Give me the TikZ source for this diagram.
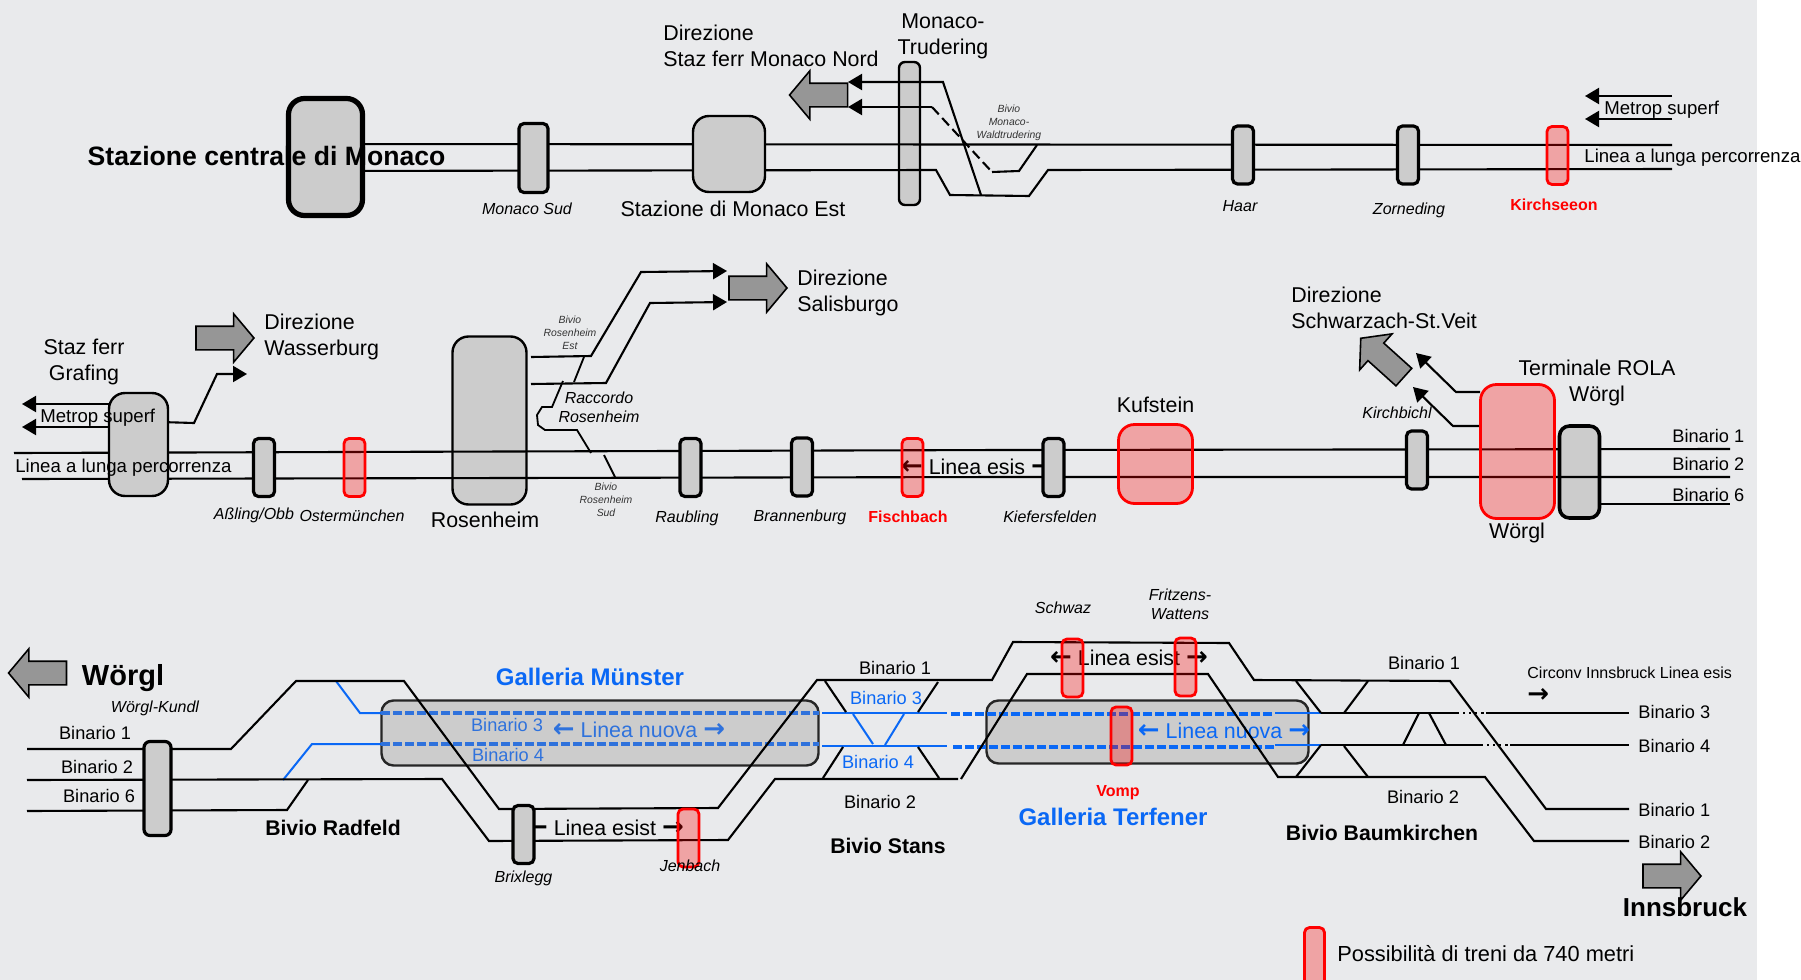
\documentclass[tikz,border=0pt]{standalone}
\usepackage{fontspec}
\setmainfont{Liberation Sans}
\newfontfamily\arrowfont{DejaVu Sans Bold}
\usepackage{xcolor}
\usepackage{tikz}
\usetikzlibrary{shapes,arrows.meta,positioning,calc}

\definecolor{pagegray}{HTML}{E9EAEC}
\definecolor{boxgray}{HTML}{CCCCCC}
\definecolor{arrowgray}{HTML}{969696}
\definecolor{railblue}{HTML}{0A68F5}
\definecolor{tunnelblue}{HTML}{2F72DC}

\newcommand{\larr}{{\arrowfont\fontsize{13}{13}\selectfont ←}}
\newcommand{\rarr}{{\arrowfont\fontsize{13}{13}\selectfont →}}

\tikzset{
  track/.style={line width=1.05pt},
  blueline/.style={line width=1.0pt, railblue},
  bluedash/.style={line width=1.7pt, tunnelblue, dash pattern=on 4.6pt off 1.4pt},
  flow/.style={line width=1.05pt, -{Triangle[length=7pt,width=8pt]}},
  stn/.style={draw=black, fill=boxgray, line width=1.2pt, rounded corners=8pt, inner sep=0pt},
  stopbox/.style={draw=black, fill=boxgray, line width=1.6pt, rounded corners=2.5pt, inner sep=0pt, minimum width=10.5pt, minimum height=29pt},
  redbox/.style={draw=red, fill=red, fill opacity=0.3, line width=1.4pt, rounded corners=8pt, inner sep=0pt},
  redstop/.style={redbox, rounded corners=2.5pt, minimum width=10.5pt, minimum height=29pt},
  tunnel/.style={draw=black!85, fill=boxgray, line width=1.2pt, rounded corners=6pt, inner sep=0pt},
  bigarrow/.style={single arrow, draw=black, fill=arrowgray, line width=0.8pt, inner xsep=0pt, inner ysep=5.5pt, minimum width=23.5pt, minimum height=29pt, single arrow head extend=6.2pt, single arrow tip angle=100, single arrow head indent=0pt},
  lbl/.style={font=\fontsize{10.7}{13}\selectfont, inner sep=0pt},
  binlbl/.style={font=\fontsize{9.1}{11}\selectfont, inner sep=0pt},
  metrolbl/.style={font=\fontsize{9.3}{11}\selectfont, inner sep=0pt},
  smalllbl/.style={font=\itshape\fontsize{8}{9.5}\selectfont, inner sep=0pt, align=center},
  bivio/.style={font=\itshape\fontsize{5.2}{6.5}\selectfont, inner sep=0pt, align=center, black!80},
  boldlbl/.style={font=\bfseries\fontsize{10.6}{13}\selectfont, inner sep=0pt},
  redlbl/.style={font=\bfseries\fontsize{8}{10}\selectfont, red, inner sep=0pt},
}

\begin{document}
\begin{tikzpicture}[x=0.5pt, y=-0.5pt]
    \useasboundingbox (0,0) rectangle (1801,980);
    \fill[pagegray] (0,0) rectangle (1757,980);

    % Monaco line
    \node[stn, minimum width=10.5pt, minimum height=71.5pt, rounded corners=3pt] (trudering) at (909.5,133.5) {};
    \draw[track] (300,144) -- (1672,145);
    \draw[track] (300,171) -- (936,170) -- (950,195) -- (1029,196) -- (1048,170) -- (1672,169);
    \draw[track] (981,195) -- (943,82) -- (860,82);
    \draw[flow] (943,82) -- (848,82);
    \draw[flow] (932,107) -- (848,107);
    \draw[track, dash pattern=on 5pt off 2.5pt] (932,107) -- (992,172);
    \draw[track] (992,172) -- (1019,171) -- (1037,145);
    \draw[flow] (1672,96) -- (1585,96);
    \draw[flow] (1672,119) -- (1585,119);

    \node[stn, line width=2.6pt, minimum width=37pt, minimum height=58.5pt] (hbf) at (325.5,157) {};
    \node[stopbox, minimum width=14.5pt, minimum height=34.5pt] (sud) at (533.5,158) {};
    \node[stn, minimum width=36pt, minimum height=38pt] (est) at (729,154) {};
    \node[stopbox] (haar) at (1243,155) {};
    \node[stopbox] (zorneding) at (1408,155) {};
    \node[redstop] (kirchseeon) at (1557.5,155.5) {};
    \node[bigarrow, rotate=180] (nordarrow) at (823.5,95) {};

    \node[font=\bfseries\fontsize{13.3}{15}\selectfont, inner sep=0pt] (hbflbl) at (266.5,156) {Stazione centrale di Monaco};
    \node[smalllbl] (sudlbl) at (527,209) {Monaco Sud};
    \node[lbl] (estlbl) at (733,209) {Stazione di Monaco Est};
    \node[lbl, align=left, anchor=west] (nordlbl) at (663,46) {Direzione\\Staz ferr Monaco Nord};
    \node[lbl, align=center] (truderinglbl) at (943,36) {Monaco-\\Trudering};
    \node[bivio] (waldlbl) at (1009,123) {Bivio\\Monaco-\\Waldtrudering};
    \node[smalllbl] (haarlbl) at (1240,206) {Haar};
    \node[smalllbl] (zornedinglbl) at (1409,210) {Zorneding};
    \node[redlbl] (kirchseeonlbl) at (1554,205) {Kirchseeon};
    \node[metrolbl, anchor=west] (metrop1) at (1604,110) {Metrop superf};
    \node[metrolbl, anchor=west] (lunga1) at (1584,158) {Linea a lunga percorrenza};

    % Rosenheim - Kufstein - Woergl line
    \node[stn, minimum width=37pt, minimum height=84pt] (rosenheim) at (489.5,420.5) {};
    \draw[track] (14,453) -- (1000,450) -- (1730,449);
    \node[stn, line width=1.8pt, rounded corners=5pt, minimum width=20pt, minimum height=46pt] (woerglgray) at (1579.5,472) {};
    \draw[track] (22,479) -- (1000,477) -- (1730,477);
    \draw[track] (woerglgray.east |- 0,504) -- (1730,504);
    \node[lbl] (esis) at (977,467) {\larr\ Linea esis \rarr};

    \draw[flow] (138,404) -- (22,404);
    \draw[flow] (138,427) -- (22,427);
    \draw[flow] (160,422) -- (194,423) -- (217,374) -- (247,374);
    \draw[flow] (531,357) -- (591,356) -- (641,272) -- (727,271);
    \draw[flow] (531,384) -- (606,383) -- (650,303) -- (727,302);
    \draw[track, line width=0.9pt] (584,357) -- (574,382);
    \draw[track, line width=0.9pt] (563,381) -- (552,407) -- (542,407) -- (537,415) -- (538,425) -- (545,430) -- (577,430) -- (591,453);
    \draw[track, line width=0.9pt] (604,455) -- (615,477);
    \draw[flow] (1480,392) -- (1456,392) -- (1416,353);
    \draw[flow] (1480,426) -- (1453,426) -- (1413,387);

    \node[stn, minimum width=29.5pt, minimum height=51.5pt] (grafing) at (138.5,444.5) {};
    \node[stopbox] (assling) at (264,467.5) {};
    \node[redstop] (ostermuenchen) at (354.5,467.5) {};
    \node[stopbox] (raubling) at (690.5,467.5) {};
    \node[stopbox] (brannenburg) at (802,467) {};
    \node[redstop] (fischbach) at (912.5,467.5) {};
    \node[stopbox] (kiefersfelden) at (1053.5,467.5) {};
    \node[redbox, minimum width=37pt, minimum height=39.5pt] (kufstein) at (1155.5,464) {};
    \node[stopbox] (kirchbichl) at (1417,460) {};
    \node[redbox, minimum width=37pt, minimum height=67pt] (woerglred) at (1517.5,451.5) {};
    \node[bigarrow] (wasserarrow) at (220,338) {};
    \node[bigarrow] (salisarrow) at (753,288) {};
    \node[bigarrow, rotate=138] (schwarzarrow) at (1386,361) {};

    \node[lbl, align=center] (graflbl) at (84,362) {Staz ferr\\Grafing};
    \node[metrolbl, anchor=west] (metrop2) at (40,418) {Metrop superf};
    \node[metrolbl, anchor=west] (lunga2) at (15,468) {Linea a lunga percorrenza};
    \node[lbl, align=left, anchor=west] (wasserlbl) at (264,337) {Direzione\\Wasserburg};
    \node[lbl, align=left, anchor=west] (salislbl) at (797,292.5) {Direzione\\Salisburgo};
    \node[lbl, align=left, anchor=west] (schwarzlbl) at (1291,308) {Direzione\\Schwarzach-St.Veit};
    \node[smalllbl] (asslinglbl) at (254,515) {Aßling/Obb};
    \node[smalllbl] (osterlbl) at (352,516) {Ostermünchen};
    \node[lbl] (rosenlbl) at (485,520) {Rosenheim};
    \node[bivio] (estbivio) at (570,333) {Bivio\\Rosenheim\\Est};
    \node[bivio] (sudbivio) at (606,500) {Bivio\\Rosenheim\\Sud};
    \node[smalllbl] (raccordo) at (599,407.5) {Raccordo\\Rosenheim};
    \node[smalllbl] (raublinglbl) at (687,518) {Raubling};
    \node[smalllbl] (brannenlbl) at (800,517) {Brannenburg};
    \node[redlbl] (fischlbl) at (908,517) {Fischbach};
    \node[smalllbl] (kieferlbl) at (1050,517) {Kiefersfelden};
    \node[lbl] (kufsteinlbl) at (1155.5,405) {Kufstein};
    \node[smalllbl] (kirchlbl) at (1397,413) {Kirchbichl};
    \node[lbl] (woergllbl) at (1517,533) {Wörgl};
    \node[lbl, align=center] (rolalbl) at (1597,382.5) {Terminale ROLA\\Wörgl};
    \node[binlbl, anchor=west] (bin1a) at (1672,436) {Binario 1};
    \node[binlbl, anchor=west] (bin2a) at (1672,464) {Binario 2};
    \node[binlbl, anchor=west] (bin6a) at (1672,495) {Binario 6};

    % Tunnels
    \node[tunnel, minimum width=218.5pt, minimum height=32.5pt] (muenster) at (600,733) {};
    \node[tunnel, minimum width=161pt, minimum height=31.5pt] (terfener) at (1147.5,732) {};
    \node[binlbl, tunnelblue] (bin3b) at (507,725) {Binario 3};
    \node[binlbl, tunnelblue] (bin4b) at (508,755) {Binario 4};
    \node[lbl, tunnelblue] (nuova1) at (639,730) {\larr\ Linea nuova \rarr};
    \node[lbl, railblue] (nuova2) at (1224,731) {\larr\ Linea nuova \rarr};
    \node[lbl] (esist1) at (605,828) {\larr\ Linea esist \rarr};
    \node[lbl] (esist2) at (1129,658) {\larr\ Linea esist \rarr};

    % Brenner approach, blue
    \draw[blueline] (336,681) -- (360,713) -- (381,713);
    \draw[blueline] (283,780) -- (312,744) -- (381,744);
    \draw[bluedash] (381,713) -- (819,713);
    \draw[bluedash] (381,744) -- (819,744);
    \draw[blueline] (822,713) -- (947,713);
    \draw[blueline] (822,746) -- (947,746);
    \draw[bluedash, railblue] (951,714) -- (1273,714);
    \draw[bluedash, railblue] (953,747) -- (1275,747);
    \draw[blueline] (1275,713) -- (1321,713);
    \draw[blueline] (1275,745) -- (1321,745);
    \draw[blueline] (853,714) -- (873,744);
    \draw[blueline] (904,714) -- (885,745);

    % Brenner approach, black
    \draw[track] (27,749) -- (231,749) -- (296,681) -- (404,681) -- (499,809) -- (718,808) -- (817,680) -- (992,680) -- (1013,642) -- (1229,643) -- (1254,680) -- (1450,681) -- (1546,809) -- (1629,809);
    \draw[track] (27,780) -- (442,779) -- (489,841) -- (728,840) -- (775,779) -- (958,779);
    \draw[track] (961,779) -- (1027,674) -- (1208,674) -- (1278,777) -- (1485,777) -- (1534,841) -- (1629,841);
    \draw[track] (27,811) -- (287,810) -- (308,780);
    \draw[track] (825,681) -- (846,712);
    \draw[track] (938,682) -- (918,712);
    \draw[track] (843,747) -- (823,778);
    \draw[track] (918,747) -- (939,778);
    \draw[track] (1296,681) -- (1321,713);
    \draw[track] (1368,681) -- (1344,713);
    \draw[track] (1321,745) -- (1296,777);
    \draw[track] (1344,746) -- (1368,777);
    \draw[track] (1419,713) -- (1403,745);
    \draw[track] (1429,713) -- (1446,745);
    \draw[track] (1321,713) -- (1457,713);
    \draw[track, dotted] (1457,713) -- (1485,713);
    \draw[track] (1486,713) -- (1629,713);
    \draw[track] (1321,745) -- (1481,745);
    \draw[track, dotted] (1481,745) -- (1508,745);
    \draw[track] (1510,745) -- (1629,745);

    \node[stopbox, minimum width=13.5pt, minimum height=47pt, rounded corners=3pt] (kundl) at (157.5,788.5) {};
    \node[stopbox] (brixlegg) at (523.5,834.5) {};
    \node[redstop] (jenbach) at (688.5,838) {};
    \node[redstop] (schwaz) at (1072.5,668) {};
    \node[redstop] (fritzens) at (1185.5,667) {};
    \node[redstop] (vomp) at (1121.5,736) {};
    \node[bigarrow, rotate=180] (woerglarrow) at (42.5,673) {};
    \node[bigarrow] (innsarrow) at (1667,876) {};
    \node[redstop, minimum width=10pt, minimum height=31pt] (legendbox) at (1314.5,958.5) {};

    \node[font=\bfseries\fontsize{14.5}{16}\selectfont, inner sep=0pt] (woerglbig) at (123,678) {Wörgl};
    \node[smalllbl] (kundllbl) at (155,708) {Wörgl-Kundl};
    \node[binlbl] (bin1c) at (95,733) {Binario 1};
    \node[binlbl] (bin2c) at (97,767) {Binario 2};
    \node[binlbl] (bin6c) at (99,796) {Binario 6};
    \node[boldlbl] (radfeld) at (333,828) {Bivio Radfeld};
    \node[font=\bfseries\fontsize{12}{14}\selectfont, railblue, inner sep=0pt] (muensterlbl) at (590,677) {Galleria Münster};
    \node[smalllbl] (brixlbl) at (523.5,878) {Brixlegg};
    \node[smalllbl] (jenbachlbl) at (690,866) {Jenbach};
    \node[binlbl] (bin1d) at (895,668) {Binario 1};
    \node[binlbl, railblue] (bin3d) at (886,698) {Binario 3};
    \node[binlbl, railblue] (bin4d) at (878,762) {Binario 4};
    \node[binlbl] (bin2d) at (880,802) {Binario 2};
    \node[boldlbl] (stans) at (888,846) {Bivio Stans};
    \node[smalllbl] (schwazlbl) at (1063,608) {Schwaz};
    \node[smalllbl] (fritzlbl) at (1180,604.5) {Fritzens-\\Wattens};
    \node[redlbl] (vomplbl) at (1118,793) {Vomp};
    \node[font=\bfseries\fontsize{12}{14}\selectfont, railblue, inner sep=0pt] (terfenerlbl) at (1113,817) {Galleria Terfener};
    \node[binlbl] (bin1e) at (1424,663) {Binario 1};
    \node[binlbl] (bin2e) at (1423,797) {Binario 2};
    \node[boldlbl] (baum) at (1382,833) {Bivio Baumkirchen};
    \node[font=\fontsize{8}{12}\selectfont, inner sep=0pt, align=left, anchor=west] (circonv) at (1527,685) {Circonv Innsbruck Linea esis\\\rarr};
    \node[binlbl, anchor=west] (bin3f) at (1638,712) {Binario 3};
    \node[binlbl, anchor=west] (bin4f) at (1638,746) {Binario 4};
    \node[binlbl, anchor=west] (bin1f) at (1638,810) {Binario 1};
    \node[binlbl, anchor=west] (bin2f) at (1638,842) {Binario 2};
    \node[font=\bfseries\fontsize{13}{15}\selectfont, inner sep=0pt] (innsbruck) at (1685,907) {Innsbruck};
    \node[font=\fontsize{10.9}{12}\selectfont, inner sep=0pt, anchor=west] (legendlbl) at (1337,954) {Possibilità di treni da 740 metri};
\end{tikzpicture}
\end{document}
